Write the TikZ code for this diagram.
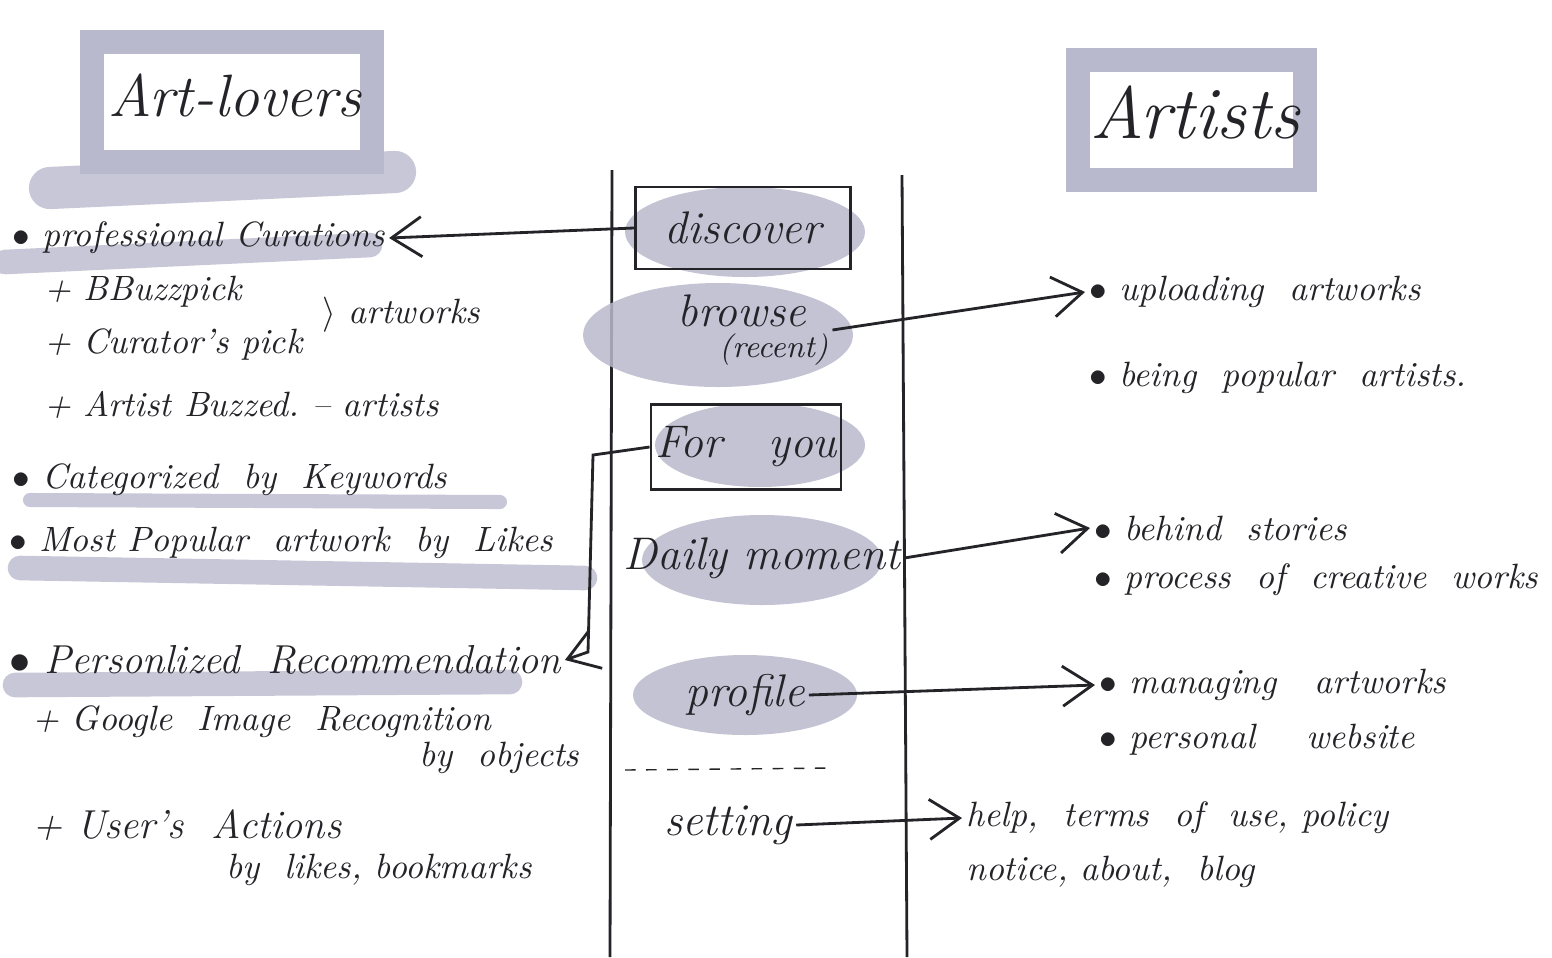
\documentclass[tikz,border=0pt]{standalone}
\usepackage{tikz}
\usetikzlibrary{arrows.meta,positioning,shapes.geometric}
\definecolor{inkgrey}{RGB}{35,35,40}
\definecolor{marker}{RGB}{185,185,205}
\begin{document}
\begin{tikzpicture}[x=0.01cm, y=-0.01cm,
        note/.style={anchor=west, inner sep=1pt, font=\itshape\fontsize{10}{12}\selectfont, text=inkgrey},
        title/.style={font=\itshape\fontsize{17}{19}\selectfont, text=inkgrey},
        menu/.style={inner sep=1pt, font=\itshape\fontsize{13}{15}\selectfont, text=inkgrey},
        frame/.style={draw=inkgrey, thick},
        blob/.style={marker, opacity=0.85},
        hilite/.style={marker, line width=7pt, line cap=round, opacity=0.8},
        arrow/.style={-{Straight Barb[length=3mm,width=4mm]}, thick, inkgrey}
    ]
    \useasboundingbox (0,0) rectangle (1552,957);
    % headers
    \draw[marker, line width=7pt, line cap=round] (92,42) rectangle (372,162);
    \draw[hilite, line width=12pt] (50,188) -- (395,172);
    \node[title] (lovers) at (235,95) {Art-lovers};
    \draw[marker, line width=7pt, line cap=round] (1078,60) rectangle (1305,180);
    \node[title, font=\itshape\fontsize{21}{23}\selectfont] (artists) at (1195,112) {Artists};
    % columns
    \draw[inkgrey, thick] (612,170) -- (610,957);
    \draw[inkgrey, thick] (902,175) -- (907,957);
    % menu
    \fill[blob] (745,232) ellipse [x radius=120, y radius=45];
    \fill[blob] (718,335) ellipse [x radius=135, y radius=52];
    \fill[blob] (760,445) ellipse [x radius=105, y radius=42];
    \fill[blob] (762,560) ellipse [x radius=120, y radius=45];
    \fill[blob] (745,695) ellipse [x radius=112, y radius=40];
    \node[menu, frame, minimum width=2.15cm, minimum height=0.82cm] (discover) at (743,228) {discover};
    \node[menu, align=center] (browse) at (742,330) {browse\\[-6pt]{\fontsize{9}{10}\selectfont\qquad (recent)}};
    \node[menu, frame, minimum width=1.9cm, minimum height=0.85cm] (foryou) at (746,447) {For\quad you};
    \node[menu] (daily) at (762,558) {Daily\ moment};
    \node[menu] (profile) at (745,695) {profile};
    \draw[inkgrey, dashed] (625,770) -- (835,768);
    \node[menu] (setting) at (728,825) {setting};
    % left list
    \draw[hilite] (5,262) -- (370,245);
    \node[note] (curations) at (8,238) {$\bullet$ professional Curations};
    \node[note] (buzz) at (40,292) {+ BBuzzpick};
    \node[note] (curpick) at (40,345) {+ Curator's pick};
    \node[note] (artworks) at (318,315) {$\rangle$ artworks};
    \node[note] (buzzed) at (40,405) {+ Artist Buzzed.\ -- artists};
    \draw[hilite, line width=4pt] (30,500) -- (500,502);
    \node[note] (keywords) at (8,480) {$\bullet$ Categorized\ \ by\ \ Keywords};
    \node[note] (popular) at (5,543) {$\bullet$ Most Popular\ \ artwork\ \ by\ \ Likes};
    \draw[hilite] (20,568) -- (585,578);
    \draw[hilite] (15,685) -- (510,682);
    \node[note, font=\itshape\fontsize{11.5}{14}\selectfont] (personal) at (5,660) {$\bullet$ Personlized\ \ Recommendation};
    \node[note] (google) at (28,722) {+ Google\ \ Image\ \ Recognition};
    \node[note] (objects) at (415,758) {by\ \ objects};
    \node[note, font=\itshape\fontsize{11.5}{14}\selectfont] (actions) at (28,825) {+ User's\ \ Actions};
    \node[note] (likes) at (222,870) {by\ \ likes,\ bookmarks};
    % right list
    \node[note] (upload) at (1085,292) {$\bullet$ uploading\ \ artworks};
    \node[note] (beingpop) at (1085,378) {$\bullet$ being\ \ popular\ \ artists.};
    \node[note] (behind) at (1090,528) {$\bullet$ behind\ \ stories};
    \node[note] (process) at (1090,580) {$\bullet$ process\ \ of\ \ creative\ \ works};
    \node[note] (managing) at (1095,685) {$\bullet$ managing\ \ \ artworks};
    \node[note] (website) at (1095,740) {$\bullet$ personal\ \ \ \ website};
    \node[note] (help) at (962,818) {help,\ \ terms\ \ of\ \ use,\ policy};
    \node[note] (notice) at (962,872) {notice,\ about,\ \ blog};
    % connectors
    \draw[arrow] (discover.west) -- (curations.east);
    \draw[arrow] (browse.east) -- (upload.west);
    \draw[arrow] (daily.east) -- (behind.west);
    \draw[arrow] (profile.east) -- (managing.west);
    \draw[arrow] (setting.east) -- (help.west);
    \coordinate (bend1) at (593,455);
    \coordinate (bend2) at (588,652);
    \draw[arrow] (foryou.west) -- (bend1) -- (bend2) -- (personal.east);
\end{tikzpicture}
\end{document}
